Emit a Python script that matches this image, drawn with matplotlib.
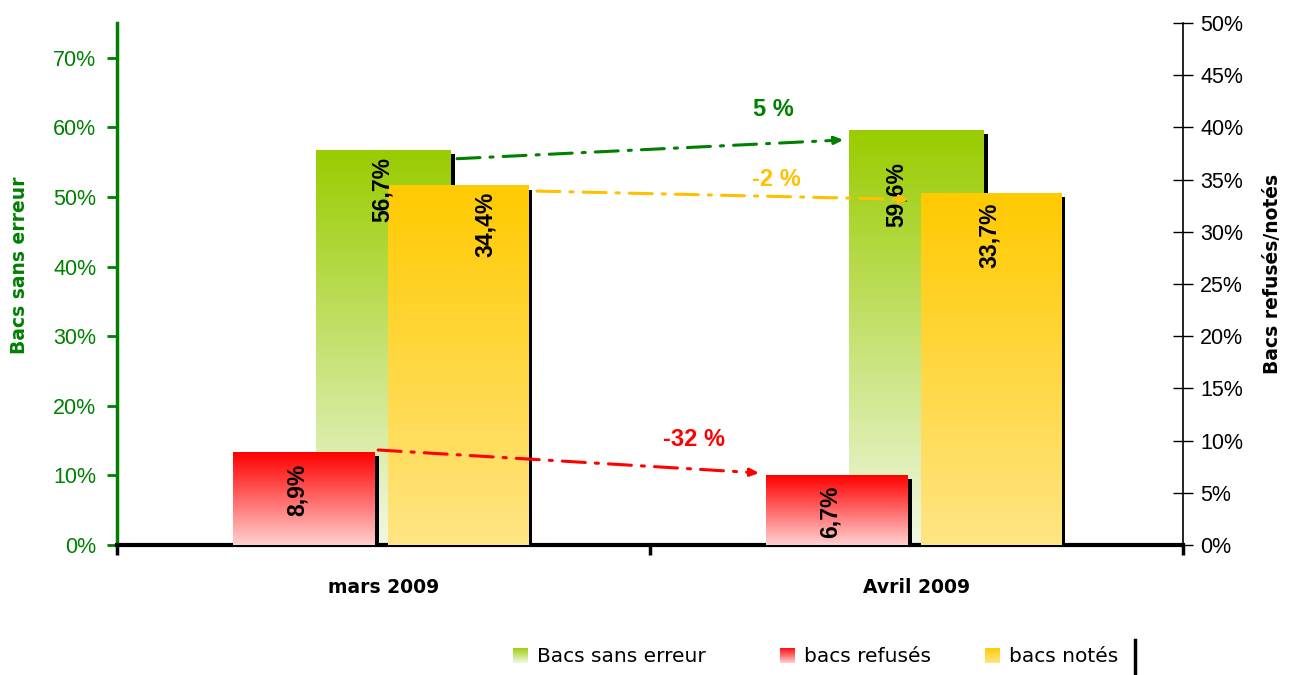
import numpy as np
import matplotlib
matplotlib.use("Agg")
import matplotlib.pyplot as plt
from matplotlib import transforms
from matplotlib.patches import Rectangle
from matplotlib.lines import Line2D
from matplotlib.colors import to_rgb

# ---------------- data ----------------
categories = ["mars 2009", "Avril 2009"]
sans_erreur = [56.7, 59.6]      # left axis (%)
refuses = [8.9, 6.7]            # right axis (%)
notes = [34.4, 33.7]            # right axis (%)
labels_sans = ["56,7%", "59,6%"]
labels_ref = ["8,9%", "6,7%"]
labels_not = ["34,4%", "33,7%"]
evolutions = ["5 %", "-32 %", "-2 %"]
series_names = ["Bacs sans erreur", "bacs refusés", "bacs notés"]
left_ticks = [0, 10, 20, 30, 40, 50, 60, 70]
right_ticks = [0, 5, 10, 15, 20, 25, 30, 35, 40, 45, 50]

# ---------------- style ----------------
W, H, DPI = 1293, 675, 100
GREEN = "#008000"
grad_green = ("#99CC00", "#F2F8E4")
grad_red = ("#FF0000", "#FFD0D0")
grad_yel = ("#FFCA00", "#FFE584")

fig = plt.figure(figsize=(W / DPI, H / DPI), dpi=DPI)
ax = fig.add_axes([117 / W, 1 - 545 / H, (1183 - 117) / W, (545 - 23) / H])
ax2 = ax.twinx()
ax.set_zorder(1)
ax2.set_zorder(2)
ax.patch.set_visible(True)
ax2.patch.set_visible(False)


def gradient(top, bottom, n=256):
    t = np.linspace(0, 1, n)[:, None]
    a = np.array(to_rgb(top))[None, :]
    b = np.array(to_rgb(bottom))[None, :]
    return (a * (1 - t) + b * t)[:, None, :]


shadow_tr = transforms.ScaledTranslation(4 / DPI, -4 / DPI, fig.dpi_scale_trans)


def grad_bar(axis, xc, w, h, cols, z):
    x0, x1 = xc - w / 2, xc + w / 2
    axis.add_patch(Rectangle((x0, 0), w, h, facecolor="black", edgecolor="none",
                             transform=axis.transData + shadow_tr, zorder=z - 0.5))
    axis.imshow(gradient(*cols), extent=[x0, x1, 0, h], origin="upper",
                aspect="auto", zorder=z, interpolation="bilinear")


x = np.arange(len(categories))
off_red, off_green, off_yel = -0.149, 0.0, 0.14
w_red, w_green, w_yel = 0.265, 0.253, 0.263

for i in range(len(categories)):
    grad_bar(ax, x[i] + off_green, w_green, sans_erreur[i], grad_green, 2)
    grad_bar(ax2, x[i] + off_red, w_red, refuses[i], grad_red, 2)
    grad_bar(ax2, x[i] + off_yel, w_yel, notes[i], grad_yel, 3)

# value labels (rotated)
lab_font = dict(family="Liberation Sans", weight="bold", fontsize=16.5, color="black",
                rotation=90, ha="center", va="top")
green_dx = [-1, -20]
green_dy = [-7, -32]
yel_dx = [27, -2]
yel_dy = [-6, -9]
red_dx = [-7, -7]
red_dy = [-12, -11]
for i in range(len(categories)):
    ax2.annotate(labels_sans[i], xy=(x[i] + off_green, sans_erreur[i]), xycoords=ax.transData,
                 xytext=(green_dx[i] * 0.72, green_dy[i] * 0.72), textcoords="offset points",
                 zorder=10, **lab_font)
    ax2.annotate(labels_not[i], xy=(x[i] + off_yel, notes[i]),
                 xytext=(yel_dx[i] * 0.72, yel_dy[i] * 0.72), textcoords="offset points",
                 zorder=10, **lab_font)
    ax2.annotate(labels_ref[i], xy=(x[i] + off_red, refuses[i]),
                 xytext=(red_dx[i] * 0.72, red_dy[i] * 0.72), textcoords="offset points",
                 zorder=10, **lab_font)

# evolution arrows
dash = (0, (7.5, 3.3, 1.0, 3.3))


def evo_arrow(xy0, xy1, coords, color):
    ax2.annotate("", xy=xy1, xycoords=coords, xytext=xy0, textcoords=coords,
                 arrowprops=dict(arrowstyle="-|>,head_length=0.5,head_width=0.22",
                                 color=color, lw=2.2, linestyle=dash,
                                 shrinkA=0, shrinkB=0), zorder=12)


evo_arrow((x[0] + 0.138, sans_erreur[0] - 1.2), (x[1] - 0.137, sans_erreur[1] - 1.4),
          ax.transData, GREEN)
evo_arrow((x[0] + 0.288, notes[0] - 0.5), (x[1] - 0.014, notes[1] - 0.6),
          ax2.transData, "#FFC000")
evo_arrow((x[0] - 0.010, refuses[0] + 0.2), (x[1] - 0.295, refuses[1] + 0.2),
          ax2.transData, "#FF0000")

evo_font = dict(family="Liberation Sans", weight="bold", fontsize=17, ha="center", va="center")
ax2.text(0.731, 62.5, evolutions[0], transform=ax.transData, color=GREEN, zorder=12, **evo_font)
ax2.text(0.583, 10.15, evolutions[1], color="#FF0000", zorder=12, **evo_font)
ax2.text(0.738, 35.0, evolutions[2], color="#FFC000", zorder=12, **evo_font)

# axes limits / ticks
ax.set_xlim(-0.5, 1.5)
ax2.set_xlim(-0.5, 1.5)
ax.set_ylim(0, 75)
ax2.set_ylim(0, 50)

ax.set_yticks(left_ticks)
ax.set_yticklabels([f"{t}%" for t in left_ticks], family="Liberation Sans", fontsize=15.5)
ax2.set_yticks(right_ticks)
ax2.set_yticklabels([f"{t}%" for t in right_ticks], family="Liberation Sans", fontsize=15.5)

ax.tick_params(axis="y", colors=GREEN, direction="out", length=7, width=2, pad=8)
ax2.tick_params(axis="y", colors="black", direction="inout", length=15, width=1, pad=5)

ax.set_xticks(x)
ax.set_xticklabels(categories, family="DejaVu Sans", weight="bold", fontsize=13.5)
ax.tick_params(axis="x", which="major", length=0, pad=24)
ax.set_xticks([-0.5, 0.5, 1.5], minor=True)
ax.tick_params(axis="x", which="minor", length=7, width=2.5, direction="out", color="black")
ax2.tick_params(axis="x", which="both", length=0, labelbottom=False)

for s in ["top", "right"]:
    ax.spines[s].set_visible(False)
for s in ["top", "left", "bottom"]:
    ax2.spines[s].set_visible(False)
ax.spines["left"].set_color(GREEN)
ax.spines["left"].set_linewidth(2.5)
ax.spines["bottom"].set_linewidth(3)
ax.spines["bottom"].set_zorder(20)
ax2.spines["right"].set_linewidth(1.2)

# axis titles
fig.text(20 / W, 1 - 265 / H, "Bacs sans erreur", rotation=90, ha="center", va="center",
         family="DejaVu Sans", weight="bold", fontsize=13.5, color=GREEN)
fig.text(1272 / W, 1 - 274 / H, "Bacs refusés/notés", rotation=90, ha="center", va="center",
         family="DejaVu Sans", weight="bold", fontsize=13.5, color="black")

# legend (manual)
leg_sq_x = [513, 780, 985]
leg_cols = [grad_green, grad_red, grad_yel]
for sx, name, cols in zip(leg_sq_x, series_names, leg_cols):
    la = fig.add_axes([sx / W, 1 - 663 / H, 15 / W, 15 / H])
    la.imshow(gradient(*cols), aspect="auto", origin="upper")
    la.axis("off")
    fig.text((sx + 24) / W, 1 - 656 / H, name, ha="left", va="center",
             family="DejaVu Sans", fontsize=14.5, color="black")
fig.add_artist(Line2D([1135 / W, 1135 / W], [0, 35 / H], lw=2.5, color="black"))

fig.savefig("out.png", dpi=DPI)
